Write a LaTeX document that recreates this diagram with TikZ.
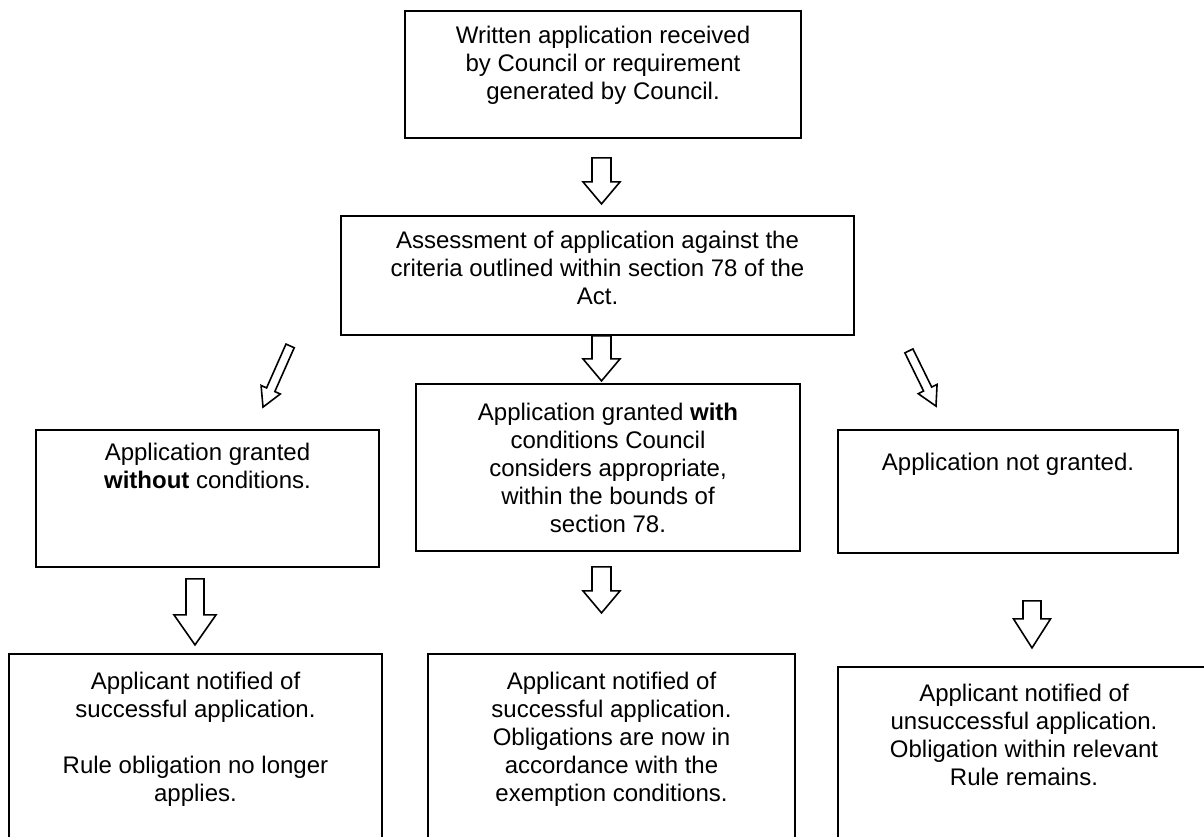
\documentclass[tikz,border=0pt]{standalone}
\usepackage{fontspec}
\setmainfont{Liberation Sans}
\usetikzlibrary{calc}

\tikzset{
  flowbox/.style={draw, line width=0.9pt, inner sep=0pt, font=\fontsize{12}{14}\selectfont},
  hollow/.style={draw, line width=0.8pt, fill=white, line join=miter}
}
% #1 gap above text, #2 width, #3 height, #4 text
\newcommand{\boxtext}[4][7.5pt]{\parbox[c][#3][t]{#2}{\centering\vspace*{#1}#4\par}}
% #1 tail, #2 tip, #3 half shaft, #4 half head, #5 head length
\newcommand{\hollowarrow}[5]{%
  \coordinate (ha) at ($(#2)!#5!(#1)$);
  \draw[hollow] ($(#1)!#3!90:(#2)$) -- ($(ha)!#3!90:(#2)$) -- ($(ha)!#4!90:(#2)$) -- (#2)
    -- ($(ha)!#4!-90:(#2)$) -- ($(ha)!#3!-90:(#2)$) -- ($(#1)!#3!-90:(#2)$) -- cycle;}

\begin{document}
\begin{tikzpicture}[x=0.5pt, y=-0.5pt]
\useasboundingbox (0,0) rectangle (1204,836);

% boxes
\node[flowbox] (written) at (603,74.5) {\boxtext{198pt}{63.5pt}{Written application received\\by Council or requirement\\generated by Council.}};
\node[flowbox] (assess) at (597.5,275.5) {\boxtext{256.5pt}{59.5pt}{Assessment of application against the\\criteria outlined within section 78 of the\\Act.}};
\node[flowbox] (granted) at (207.5,498.5) {\boxtext[6.5pt]{171.5pt}{68.5pt}{Application granted\\\textbf{without} conditions.}};
\node[flowbox] (cond) at (608,467.5) {\boxtext[9.5pt]{192pt}{83.5pt}{Application granted \textbf{with}\\conditions Council\\considers appropriate,\\within the bounds of\\section 78.}};
\node[flowbox] (refused) at (1008,491.5) {\boxtext[11.5pt]{170pt}{61.5pt}{Application not granted.}};
\node[flowbox] (notifyok) at (195.5,750) {\boxtext[9pt]{186.5pt}{96pt}{Applicant notified of\\successful application.\\[14pt]Rule obligation no longer\\applies.}};
\node[flowbox] (notifycond) at (611.5,750) {\boxtext[9pt]{183.5pt}{96pt}{Applicant notified of\\successful application.\\Obligations are now in\\accordance with the\\exemption conditions.}};
\node[flowbox] (notifyno) at (1024,756.5) {\boxtext[8.5pt]{186pt}{89.5pt}{Applicant notified of\\unsuccessful application.\\Obligation within relevant\\Rule remains.}};

% arrows
\coordinate (w-t) at ($(written.south)+(-1.5,19)$);
\coordinate (w-h) at ($(written.south)+(-1.5,65)$);
\hollowarrow{w-t}{w-h}{4.75pt}{9.25pt}{11pt}

\coordinate (a-t) at ($(assess.south)+(4,0)$);
\coordinate (a-h) at ($(assess.south)+(4,45)$);
\hollowarrow{a-t}{a-h}{4.75pt}{9.25pt}{11pt}

\coordinate (al-t) at ($(assess.south west)+(-50,10)$);
\coordinate (al-h) at ($(granted.north)+(55.5,-22)$);
\hollowarrow{al-t}{al-h}{2.25pt}{5.25pt}{9.5pt}

\coordinate (ar-t) at ($(assess.south east)+(54,15)$);
\coordinate (ar-h) at ($(refused.north)+(-72,-23)$);
\hollowarrow{ar-t}{ar-h}{2.25pt}{5.25pt}{9.5pt}

\coordinate (g-t) at ($(granted.south)+(-12.5,11)$);
\coordinate (g-h) at ($(granted.south)+(-12.5,77)$);
\hollowarrow{g-t}{g-h}{4.5pt}{10.5pt}{15pt}

\coordinate (c-t) at ($(cond.south)+(-6.5,15)$);
\coordinate (c-h) at ($(cond.south)+(-6.5,61)$);
\hollowarrow{c-t}{c-h}{4.75pt}{9.25pt}{11pt}

\coordinate (r-t) at ($(refused.south)+(24,47)$);
\coordinate (r-h) at ($(refused.south)+(24,94)$);
\hollowarrow{r-t}{r-h}{4.5pt}{9.25pt}{14.5pt}
\end{tikzpicture}
\end{document}
